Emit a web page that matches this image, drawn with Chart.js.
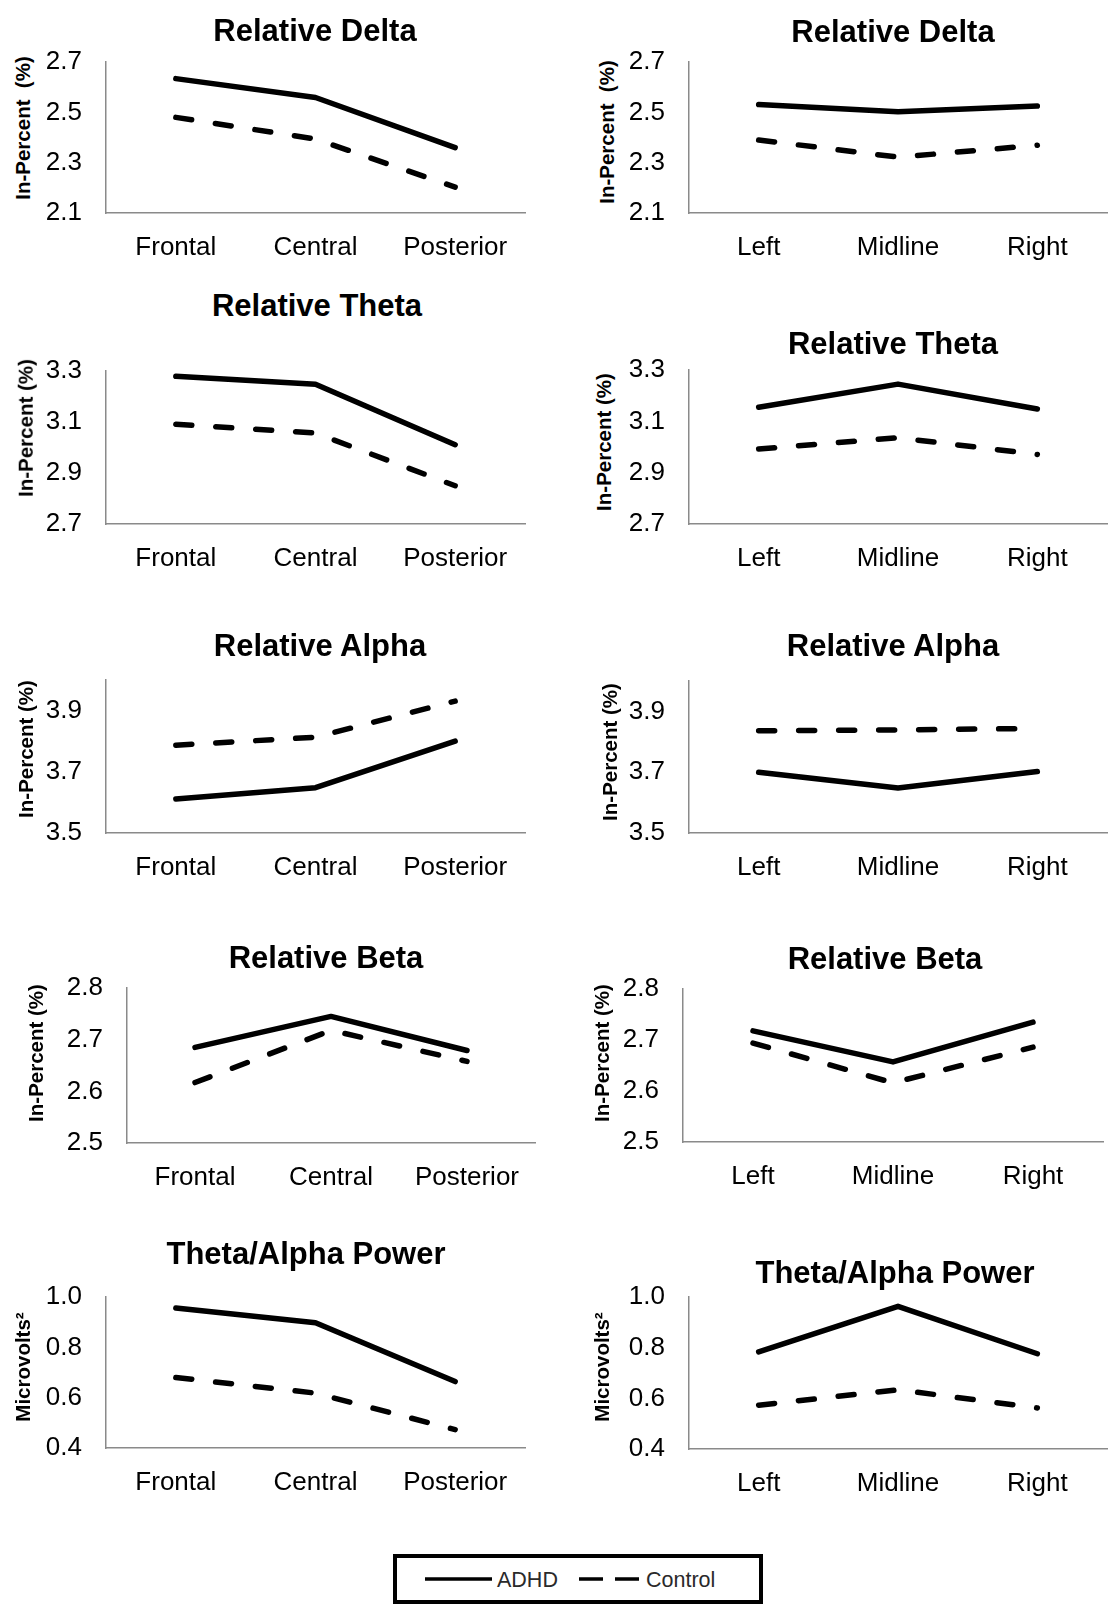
<!DOCTYPE html>
<html>
<head>
<meta charset="utf-8">
<title>EEG band power by region</title>
<script src="https://cdn.jsdelivr.net/npm/chart.js@4.4.1/dist/chart.umd.min.js"></script>
<style>
  html, body { margin: 0; padding: 0; background: #fff; }
  body { width: 1113px; height: 1607px; position: relative; overflow: hidden;
         font-family: "Liberation Sans", Arial, sans-serif; color: #000; }
  canvas { position: absolute; }
  .title { position: absolute; font-weight: bold; font-size: 31px; line-height: 1;
           white-space: nowrap; transform: translate(-50%, -50%); }
  .ytitle { position: absolute; font-weight: bold; font-size: 20.5px; line-height: 1;
            white-space: pre; transform: translate(-50%, -50%) rotate(-90deg); }
  #legend { position: absolute; left: 393px; top: 1554px; width: 370px; height: 50px;
            box-sizing: border-box; border: 4px solid #000; background: #fff; }
  #legend svg { display: block; }
  #legend text { font-family: "Liberation Sans", Arial, sans-serif; font-size: 21.5px; fill: #2a2a2a; }
</style>
</head>
<body>
<div id="legend"></div>
<script>
// ---- categories ----
const regionsAP = ['Frontal', 'Central', 'Posterior'];
const regionsLR = ['Left', 'Midline', 'Right'];
const seriesNames = ['ADHD', 'Control'];

// ---- series values ----
const deltaAP_ADHD    = [2.634, 2.559, 2.360];
const deltaAP_Control = [2.480, 2.394, 2.203];
const deltaLR_ADHD    = [2.531, 2.502, 2.525];
const deltaLR_Control = [2.390, 2.322, 2.369];

const thetaAP_ADHD    = [3.279, 3.248, 3.011];
const thetaAP_Control = [3.091, 3.057, 2.850];
const thetaLR_ADHD    = [3.155, 3.245, 3.148];
const thetaLR_Control = [2.992, 3.036, 2.971];

const alphaAP_ADHD    = [3.611, 3.648, 3.800];
const alphaAP_Control = [3.787, 3.813, 3.931];
const alphaLR_ADHD    = [3.700, 3.648, 3.702];
const alphaLR_Control = [3.836, 3.839, 3.844];

const betaAP_ADHD     = [2.685, 2.745, 2.679];
const betaAP_Control  = [2.617, 2.718, 2.658];
const betaLR_ADHD     = [2.718, 2.657, 2.735];
const betaLR_Control  = [2.694, 2.616, 2.686];

const ratioAP_ADHD    = [0.956, 0.898, 0.664];
const ratioAP_Control = [0.680, 0.618, 0.473];
const ratioLR_ADHD    = [0.783, 0.963, 0.776];
const ratioLR_Control = [0.573, 0.634, 0.562];

// ---- value axes: ranges and tick labels ----
const deltaRange = [2.1, 2.7];  const deltaTicks = [2.1, 2.3, 2.5, 2.7];
const thetaRange = [2.7, 3.3];  const thetaTicks = [2.7, 2.9, 3.1, 3.3];
const alphaRange = [3.5, 4.0];  const alphaTicks = [3.5, 3.7, 3.9];
const betaRange  = [2.5, 2.8];  const betaTicks  = [2.5, 2.6, 2.7, 2.8];
const ratioRange = [0.4, 1.0];  const ratioTicks = [0.4, 0.6, 0.8, 1.0];

// ---- text ----
const titleDelta = 'Relative Delta';
const titleTheta = 'Relative Theta';
const titleAlpha = 'Relative Alpha';
const titleBeta  = 'Relative Beta';
const titleRatio = 'Theta/Alpha Power';
const unitPercentWide = 'In-Percent  (%)';
const unitPercent = 'In-Percent (%)';
const unitPower = 'Microvolts\u00B2';

// ---- panel geometry: plot box (left, right, top, bottom), title and unit-label centres ----
const panels = [
  { labels: regionsAP, a: deltaAP_ADHD, c: deltaAP_Control, range: deltaRange, ticks: deltaTicks,
    title: titleDelta, unit: unitPercentWide, box: [106, 525, 62, 213], t: [315, 30], u: [22.5, 128] },
  { labels: regionsLR, a: deltaLR_ADHD, c: deltaLR_Control, range: deltaRange, ticks: deltaTicks,
    title: titleDelta, unit: unitPercentWide, box: [689, 1107, 62, 213], t: [893, 31], u: [607, 132] },
  { labels: regionsAP, a: thetaAP_ADHD, c: thetaAP_Control, range: thetaRange, ticks: thetaTicks,
    title: titleTheta, unit: unitPercent, box: [106, 525, 371, 524], t: [317, 305], u: [25.6, 428] },
  { labels: regionsLR, a: thetaLR_ADHD, c: thetaLR_Control, range: thetaRange, ticks: thetaTicks,
    title: titleTheta, unit: unitPercent, box: [689, 1107, 370, 524], t: [893, 343], u: [604, 442] },
  { labels: regionsAP, a: alphaAP_ADHD, c: alphaAP_Control, range: alphaRange, ticks: alphaTicks,
    title: titleAlpha, unit: unitPercent, box: [106, 525, 680, 833], t: [320, 645], u: [25.6, 749] },
  { labels: regionsLR, a: alphaLR_ADHD, c: alphaLR_Control, range: alphaRange, ticks: alphaTicks,
    title: titleAlpha, unit: unitPercent, box: [689, 1107, 681, 833], t: [893, 645], u: [610, 752] },
  { labels: regionsAP, a: betaAP_ADHD, c: betaAP_Control, range: betaRange, ticks: betaTicks,
    title: titleBeta, unit: unitPercent, box: [127, 535, 988, 1143], t: [326, 957], u: [36, 1053] },
  { labels: regionsLR, a: betaLR_ADHD, c: betaLR_Control, range: betaRange, ticks: betaTicks,
    title: titleBeta, unit: unitPercent, box: [683, 1103, 989, 1142], t: [885, 958], u: [602, 1053] },
  { labels: regionsAP, a: ratioAP_ADHD, c: ratioAP_Control, range: ratioRange, ticks: ratioTicks,
    title: titleRatio, unit: unitPower, box: [106, 525, 1297, 1448], t: [306, 1253], u: [22.5, 1367] },
  { labels: regionsLR, a: ratioLR_ADHD, c: ratioLR_Control, range: ratioRange, ticks: ratioTicks,
    title: titleRatio, unit: unitPower, box: [689, 1107, 1297, 1449], t: [895, 1272], u: [602, 1367] }
];

const FONT = '"Liberation Sans", Arial, sans-serif';
const AXIS_COLOR = '#8a8a8a';
const LINE_W = 5.5;
const Y_W = 70;    // width reserved for the value axis
const X_H = 62;    // height reserved for the category axis
const PAD_T = 44;  // room above the plot for the top tick label (half line + tick padding)
const PAD_R = 4;

function addText(cls, text, x, y) {
  const d = document.createElement('div');
  d.className = cls;
  d.textContent = text;
  d.style.left = x + 'px';
  d.style.top = y + 'px';
  document.body.appendChild(d);
}

panels.forEach(p => {
  const [L, R, T, B] = p.box;
  const cv = document.createElement('canvas');
  const w = Y_W + (R - L) + PAD_R;
  const h = PAD_T + (B - T) + X_H;
  cv.width = w; cv.height = h;
  cv.style.left = (L - Y_W) + 'px';
  cv.style.top = (T - PAD_T) + 'px';
  cv.style.width = w + 'px';
  cv.style.height = h + 'px';
  document.body.appendChild(cv);

  addText('title', p.title, p.t[0], p.t[1]);
  addText('ytitle', p.unit, p.u[0], p.u[1]);

  new Chart(cv, {
    type: 'line',
    data: {
      labels: p.labels,
      datasets: [
        { label: seriesNames[0], data: p.a, borderColor: '#000', borderWidth: LINE_W,
          pointRadius: 0, tension: 0, fill: false, borderCapStyle: 'round', borderJoinStyle: 'round' },
        { label: seriesNames[1], data: p.c, borderColor: '#000', borderWidth: LINE_W,
          borderDash: [16, 24], pointRadius: 0, tension: 0, fill: false,
          borderCapStyle: 'round', borderJoinStyle: 'round' }
      ]
    },
    options: {
      responsive: false,
      animation: false,
      devicePixelRatio: 1,
      layout: { padding: { top: PAD_T, right: PAD_R, bottom: 0, left: 0 } },
      plugins: { legend: { display: false }, tooltip: { enabled: false }, title: { display: false } },
      scales: {
        x: {
          type: 'category',
          offset: true,
          grid: { display: false, drawTicks: false },
          border: { display: true, color: AXIS_COLOR, width: 1.5 },
          ticks: { color: '#000', font: { family: FONT, size: 26 }, padding: 19,
                   maxRotation: 0, autoSkip: false },
          afterFit(s) { s.height = X_H; }
        },
        y: {
          type: 'linear',
          min: p.range[0],
          max: p.range[1],
          grid: { display: false, drawTicks: false },
          border: { display: true, color: AXIS_COLOR, width: 1.5 },
          ticks: { color: '#000', font: { family: FONT, size: 26 }, padding: 24,
                   callback: v => Number(v).toFixed(1) },
          afterBuildTicks(s) { s.ticks = p.ticks.map(v => ({ value: v })); },
          afterFit(s) { s.width = Y_W; }
        }
      }
    }
  });
});

// legend box
(function () {
  const ns = 'http://www.w3.org/2000/svg';
  const svg = document.createElementNS(ns, 'svg');
  svg.setAttribute('width', '362');
  svg.setAttribute('height', '42');
  function line(x1, x2, dash) {
    const l = document.createElementNS(ns, 'line');
    l.setAttribute('x1', x1); l.setAttribute('x2', x2);
    l.setAttribute('y1', 21); l.setAttribute('y2', 21);
    l.setAttribute('stroke', '#000'); l.setAttribute('stroke-width', '3.5');
    if (dash) l.setAttribute('stroke-dasharray', dash);
    svg.appendChild(l);
  }
  function text(x, s) {
    const t = document.createElementNS(ns, 'text');
    t.setAttribute('x', x); t.setAttribute('y', 29);
    t.textContent = s;
    svg.appendChild(t);
  }
  line(28, 95);
  text(100, seriesNames[0]);
  line(182, 245, '24 12');
  text(249, seriesNames[1]);
  document.getElementById('legend').appendChild(svg);
})();
</script>
</body>
</html>
